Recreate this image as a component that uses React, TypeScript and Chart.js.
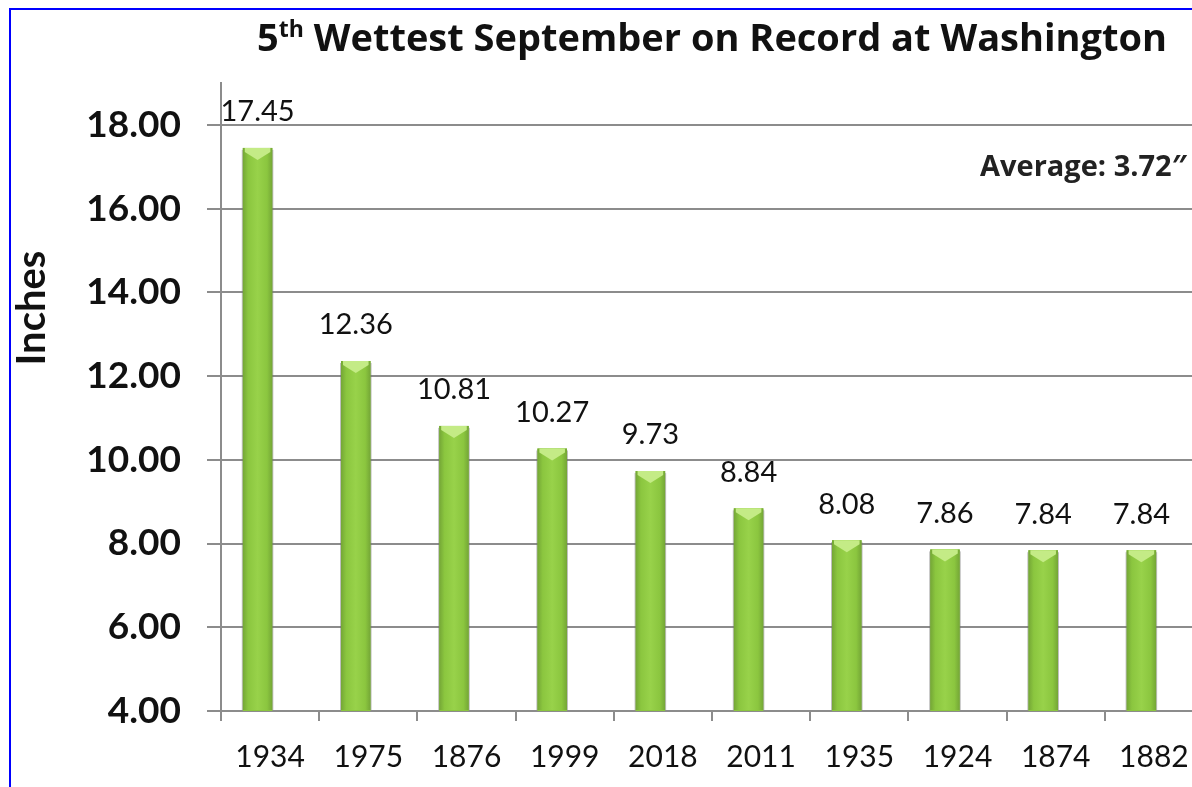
import React, { useEffect, useRef } from "react";
import { Chart, registerables } from "chart.js";

Chart.register(...registerables);

const years = ["1934", "1975", "1876", "1999", "2018", "2011", "1935", "1924", "1874", "1882"];
const rainfall = [17.45, 12.36, 10.81, 10.27, 9.73, 8.84, 8.08, 7.86, 7.84, 7.84];
const spacer = years.map(() => null);
const yTickValues = [4, 6, 8, 10, 12, 14, 16, 18];
const titleMain = "5";
const titleSup = "th";
const titleRest = " Wettest September on Record at Washington";
const averageNote = "Average: 3.72\u2033";
const yAxisTitle = "Inches";

const FONT = "Lato, 'Open Sans', sans-serif";
const TITLE_FONT = "'Open Sans', Lato, sans-serif";

const barStylePlugin = {
  id: "barStyle",
  afterDatasetsDraw(chart: any) {
    const ctx = chart.ctx;
    const meta = chart.getDatasetMeta(0);
    const area = chart.chartArea;
    ctx.save();
    meta.data.forEach((el: any) => {
      const { x, y, width } = el.getProps(["x", "y", "width"], true);
      const left = x - width / 2;
      const bottom = area.bottom - 1;
      const g = ctx.createLinearGradient(left, 0, left + width, 0);
      g.addColorStop(0, "#74a636");
      g.addColorStop(0.18, "#8bc63f");
      g.addColorStop(0.5, "#98d24a");
      g.addColorStop(0.82, "#8bc63f");
      g.addColorStop(1, "#74a636");
      ctx.fillStyle = g;
      ctx.fillRect(left, y, width, bottom - y);
      ctx.fillStyle = "#c4eb86";
      ctx.beginPath();
      ctx.moveTo(left + 2, y);
      ctx.lineTo(left + width - 2, y);
      ctx.lineTo(left + width - 2, y + 4);
      ctx.lineTo(x, y + 12);
      ctx.lineTo(left + 2, y + 4);
      ctx.closePath();
      ctx.fill();
      ctx.strokeStyle = "rgba(110,110,110,0.45)";
      ctx.lineWidth = 1;
      ctx.beginPath();
      ctx.moveTo(left - 0.5, y + 2);
      ctx.lineTo(left - 0.5, bottom);
      ctx.moveTo(left + width + 0.5, y + 2);
      ctx.lineTo(left + width + 0.5, bottom);
      ctx.stroke();
    });
    ctx.restore();
  },
};

const labelPlugin = {
  id: "valueLabels",
  afterDatasetsDraw(chart: any) {
    const ctx = chart.ctx;
    const meta = chart.getDatasetMeta(0);
    ctx.save();
    ctx.font = `29px ${FONT}`;
    ctx.fillStyle = "#111";
    ctx.textAlign = "center";
    ctx.textBaseline = "middle";
    meta.data.forEach((el: any, i: number) => {
      const { x, y } = el.getProps(["x", "y"], true);
      ctx.fillText(rainfall[i].toFixed(2), x, y - 36);
    });
    ctx.restore();
  },
};

const textPlugin = {
  id: "textDecor",
  afterDraw(chart: any) {
    const ctx = chart.ctx;
    const area = chart.chartArea;
    ctx.save();
    // Title with superscript
    const bigFont = `bold 38px ${TITLE_FONT}`;
    const supFont = `bold 23px ${TITLE_FONT}`;
    ctx.font = bigFont;
    const w1 = ctx.measureText(titleMain).width;
    const w3 = ctx.measureText(titleRest).width;
    ctx.font = supFont;
    const w2 = ctx.measureText(titleSup).width;
    const total = w1 + w2 + w3;
    const cx = (area.left + area.right) / 2;
    let tx = cx - total / 2;
    const baseY = 51;
    ctx.fillStyle = "#111";
    ctx.textAlign = "left";
    ctx.textBaseline = "alphabetic";
    ctx.font = bigFont;
    ctx.fillText(titleMain, tx, baseY);
    tx += w1;
    ctx.font = supFont;
    ctx.fillText(titleSup, tx, baseY - 14);
    tx += w2;
    ctx.font = bigFont;
    ctx.fillText(titleRest, tx, baseY);

    // Average note
    ctx.font = `bold 29px ${TITLE_FONT}`;
    ctx.fillStyle = "#222";
    ctx.textBaseline = "middle";
    ctx.fillText(averageNote, 980, 168);

    // Y axis title
    ctx.translate(32, 308);
    ctx.rotate(-Math.PI / 2);
    ctx.font = `bold 40px ${FONT}`;
    ctx.fillStyle = "#111";
    ctx.textAlign = "center";
    ctx.textBaseline = "middle";
    ctx.fillText(yAxisTitle, 0, 0);
    ctx.restore();
  },
};

export default function App() {
  const ref = useRef<HTMLCanvasElement | null>(null);

  useEffect(() => {
    if (!ref.current) return;
    const chart = new Chart(ref.current, {
      type: "bar",
      data: {
        labels: years,
        datasets: [
          {
            label: "Rainfall",
            data: rainfall,
            backgroundColor: "#8cc63f",
            categoryPercentage: 0.51,
            barPercentage: 1.18,
          },
          {
            label: "",
            data: spacer as any,
            backgroundColor: "rgba(0,0,0,0)",
            categoryPercentage: 0.51,
            barPercentage: 1.18,
          },
        ],
      },
      options: {
        responsive: false,
        animation: false,
        devicePixelRatio: 1,
        layout: { padding: { left: 0, top: 83, right: 7, bottom: 0 } },
        plugins: {
          legend: { display: false },
          tooltip: { enabled: false },
          title: { display: false },
        },
        scales: {
          x: {
            offset: true,
            grid: {
              offset: true,
              drawOnChartArea: false,
              drawTicks: true,
              tickLength: 10,
              color: "#8c8c8c",
              lineWidth: 2,
            },
            border: { color: "#8c8c8c", width: 2 },
            ticks: {
              font: { family: FONT, size: 30 },
              color: "#111",
              padding: 18,
              maxRotation: 0,
              autoSkip: false,
            },
            afterFit: (s: any) => {
              s.height = 76;
            },
          },
          y: {
            min: 4,
            max: 19,
            afterBuildTicks: (s: any) => {
              s.ticks = yTickValues.map((v) => ({ value: v }));
            },
            grid: { color: "#8c8c8c", lineWidth: 2, tickLength: 14 },
            border: { color: "#8c8c8c", width: 2 },
            ticks: {
              font: { family: FONT, size: 37, weight: "bold" },
              color: "#111",
              padding: 26,
              callback: (v: any) => Number(v).toFixed(2),
            },
            afterFit: (s: any) => {
              s.width = 221;
            },
          },
        },
      },
      plugins: [barStylePlugin, labelPlugin, textPlugin],
    });
    return () => chart.destroy();
  }, []);

  return (
    <div
      style={{
        position: "fixed",
        left: 0,
        top: 0,
        width: 1192,
        height: 787,
        overflow: "hidden",
        background: "#fff",
      }}
    >
      <canvas
        ref={ref}
        width={1210}
        height={787}
        style={{ position: "absolute", left: 0, top: 0, width: 1210, height: 787 }}
      />
      <div
        style={{
          position: "absolute",
          left: 9,
          top: 8,
          width: 1400,
          height: 1000,
          border: "2px solid #0000ff",
          boxSizing: "border-box",
          pointerEvents: "none",
        }}
      />
    </div>
  );
}
